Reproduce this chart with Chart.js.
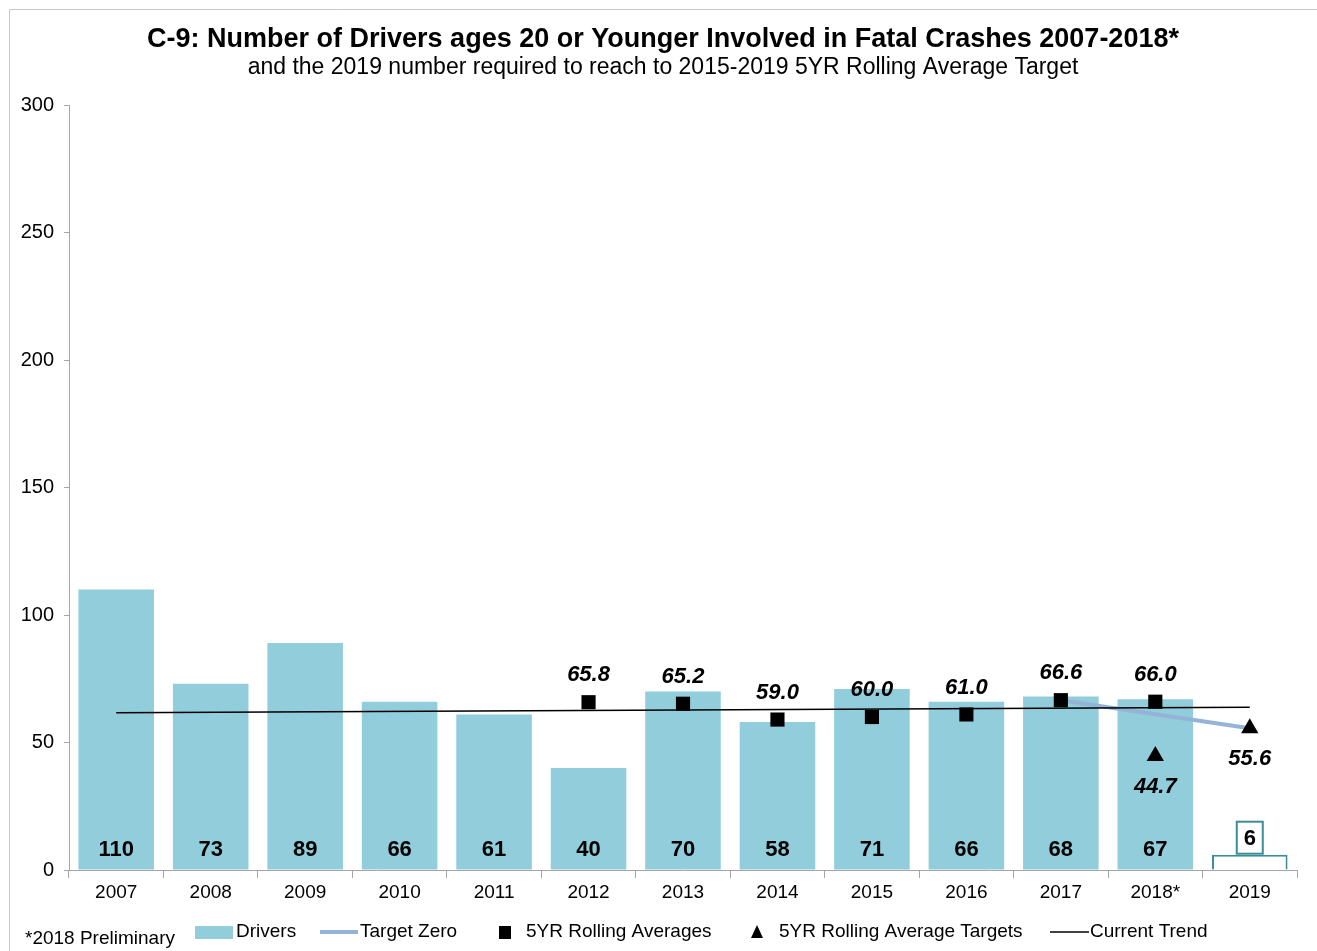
<!DOCTYPE html>
<html>
<head>
<meta charset="utf-8">
<script src="https://cdn.jsdelivr.net/npm/chart.js@4.4.1/dist/chart.umd.min.js"></script>
<style>
  html, body { margin: 0; padding: 0; background: #fff; }
  #wrap { width: 1317px; height: 951px; position: relative; }
</style>
</head>
<body>
<div id="wrap"><canvas id="c9Chart"></canvas></div>
<script>
// data
const years = ["2007", "2008", "2009", "2010", "2011", "2012", "2013", "2014", "2015", "2016", "2017", "2018*", "2019"];
const drivers = [110, 73, 89, 66, 61, 40, 70, 58, 71, 66, 68, 67, 6];
const rollingAvg = [null, null, null, null, null, 65.8, 65.2, 59.0, 60.0, 61.0, 66.6, 66.0, null];
const rollingTargets = [null, null, null, null, null, null, null, null, null, null, null, 44.7, 55.6];
const targetZero = [null, null, null, null, null, null, null, null, null, null, 66.6, 61.1, 55.6];
const currentTrend = [61.7, null, null, null, null, null, null, null, null, null, null, null, 63.8];
const yTicks = [0, 50, 100, 150, 200, 250, 300];

const barBlue = '#92cddc';
const lastIdx = drivers.length - 1;
const fontFam = '"Liberation Sans", Arial, sans-serif';

//標籤 + 圖例 + 外框
const labelPlugin = {
  id: 'c9Labels',
  beforeDraw(chart) {
    const ctx = chart.ctx;
    ctx.save();
    ctx.strokeStyle = '#c8c8c8';
    ctx.lineWidth = 1;
    ctx.beginPath();
    ctx.moveTo(9.5, 951);
    ctx.lineTo(9.5, 9.5);
    ctx.lineTo(1317, 9.5);
    ctx.stroke();
    ctx.restore();
  },
  afterDatasetsDraw(chart) {
    const ctx = chart.ctx;
    ctx.save();
    ctx.fillStyle = '#000';
    ctx.textAlign = 'center';
    ctx.textBaseline = 'middle';

    // bar values
    const barMeta = chart.getDatasetMeta(0);
    ctx.font = 'bold 22px ' + fontFam;
    barMeta.data.forEach((bar, i) => {
      if (i === lastIdx) {
        const bx = bar.x, by = bar.y - 17;
        ctx.fillStyle = '#fff';
        ctx.fillRect(bx - 13, by - 16, 26, 32);
        ctx.strokeStyle = '#3a8d99';
        ctx.lineWidth = 2;
        ctx.strokeRect(bx - 13, by - 16, 26, 32);
        ctx.fillStyle = '#000';
        ctx.fillText(drivers[i], bx, by + 1);
      } else {
        ctx.fillText(drivers[i], bar.x, chart.scales.y.getPixelForValue(0) - 20);
      }
    });

    // rolling averages
    ctx.font = 'italic bold 22px ' + fontFam;
    const avgMeta = chart.getDatasetMeta(2);
    avgMeta.data.forEach((pt, i) => {
      if (rollingAvg[i] == null) return;
      ctx.fillText(rollingAvg[i].toFixed(1), pt.x, pt.y - 27);
    });
    const tgtMeta = chart.getDatasetMeta(3);
    tgtMeta.data.forEach((pt, i) => {
      if (rollingTargets[i] == null) return;
      ctx.fillText(rollingTargets[i].toFixed(1), pt.x, pt.y + 31);
    });
    ctx.restore();
  },
  afterDraw(chart) {
    const ctx = chart.ctx;
    ctx.save();
    ctx.fillStyle = '#000';
    ctx.textAlign = 'center';
    ctx.textBaseline = 'middle';
    ctx.font = 'bold 27px ' + fontFam;
    ctx.fillText('C-9: Number of Drivers ages 20 or Younger Involved in Fatal Crashes 2007-2018*', 663, 40);
    ctx.font = '23px ' + fontFam;
    ctx.fillText('and the 2019 number required to reach to 2015-2019 5YR Rolling Average Target', 663, 68);

    // legend
    const ly = 932;
    ctx.textAlign = 'left';
    ctx.font = '19px ' + fontFam;
    ctx.fillText('*2018 Preliminary', 25, 939);

    ctx.fillStyle = barBlue;
    ctx.fillRect(195, ly - 6, 38, 13);
    ctx.fillStyle = '#000';
    ctx.fillText('Drivers', 236, ly);

    ctx.strokeStyle = '#95b3d7';
    ctx.lineWidth = 4;
    ctx.beginPath(); ctx.moveTo(320, ly); ctx.lineTo(358, ly); ctx.stroke();
    ctx.fillText('Target Zero', 360, ly);

    ctx.fillRect(499, ly - 6, 12, 13);
    ctx.fillText('5YR Rolling Averages', 526, ly);

    ctx.beginPath();
    ctx.moveTo(757, ly - 7); ctx.lineTo(763, ly + 6); ctx.lineTo(751, ly + 6); ctx.closePath(); ctx.fill();
    ctx.fillText('5YR Rolling Average Targets', 779, ly);

    ctx.strokeStyle = '#000';
    ctx.lineWidth = 1.5;
    ctx.beginPath(); ctx.moveTo(1050, ly); ctx.lineTo(1089, ly); ctx.stroke();
    ctx.fillText('Current Trend', 1090, ly);
    ctx.restore();
  }
};

new Chart(document.getElementById('c9Chart'), {
  type: 'bar',
  data: {
    labels: years,
    datasets: [{
      label: 'Drivers',
      data: drivers,
      backgroundColor: drivers.map((v, i) => i === lastIdx ? '#ffffff' : barBlue),
      borderColor: drivers.map((v, i) => i === lastIdx ? '#3a8d99' : barBlue),
      borderWidth: drivers.map((v, i) => i === lastIdx ? 2 : 0),
      barPercentage: 0.8,
      categoryPercentage: 1.0,
      order: 5
    },
    {
      type: 'line',
      label: 'Target Zero',
      data: targetZero,
      borderColor: '#95b3d7',
      borderWidth: 4,
      pointRadius: 0,
      order: 3
    },
    {
      type: 'line',
      label: '5YR Rolling Averages',
      data: rollingAvg,
      showLine: false,
      pointStyle: 'rect',
      pointRadius: 10,
      pointBackgroundColor: '#000',
      pointBorderWidth: 0,
      order: 1
    },
    {
      type: 'line',
      label: '5YR Rolling Average Targets',
      data: rollingTargets,
      showLine: false,
      pointStyle: 'triangle',
      pointRadius: 10,
      pointBackgroundColor: '#000',
      pointBorderWidth: 0,
      order: 1
    },
    {
      type: 'line',
      label: 'Current Trend',
      data: currentTrend,
      spanGaps: true,
      borderColor: '#000',
      borderWidth: 1.5,
      pointRadius: 0,
      order: 2
    }]
  },
  options: {
    responsive: true,
    maintainAspectRatio: false,
    animation: false,
    layout: { padding: { top: 105, right: 20, bottom: 51, left: 0 } },
    plugins: {
      legend: { display: false },
      tooltip: { enabled: false }
    },
    scales: {
      x: {
        offset: true,
        grid: { display: true, drawOnChartArea: false, offset: true, tickLength: 8, color: '#a6a6a6' },
        border: { color: '#a6a6a6' },
        ticks: { color: '#000', padding: 3, font: { size: 19, family: fontFam } },
        afterFit(scale) { scale.height = 30; }
      },
      y: {
        min: 0,
        max: 300,
        afterBuildTicks(scale) { scale.ticks = yTicks.map(v => ({ value: v })); },
        grid: { display: true, drawOnChartArea: false, tickLength: 5, color: '#a6a6a6' },
        border: { color: '#a6a6a6' },
        ticks: { color: '#000', padding: 10, font: { size: 20, family: fontFam } },
        afterFit(scale) { scale.width = 69; }
      }
    }
  },
  plugins: [labelPlugin]
});
</script>
</body>
</html>
